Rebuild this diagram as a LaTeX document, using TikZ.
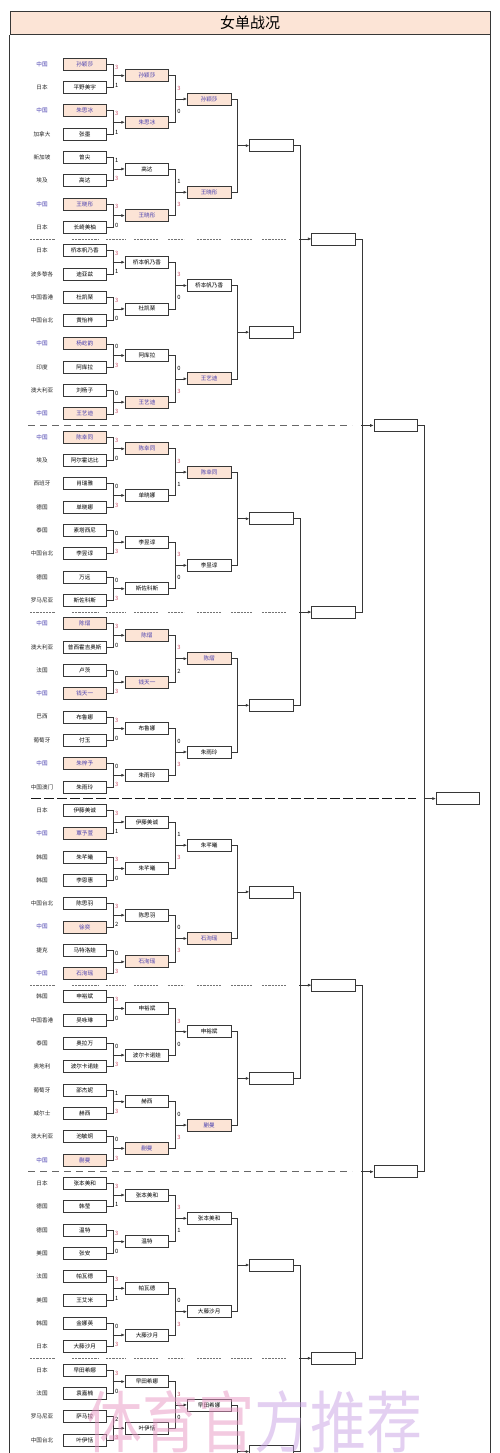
\documentclass[tikz,border=0pt]{standalone}
\usepackage{fontspec}
\newfontfamily\cjk{Noto Sans CJK SC}
\usetikzlibrary{arrows.meta,calc}
\definecolor{peach}{RGB}{252,228,214}
\definecolor{cnblue}{RGB}{72,62,175}
\definecolor{winred}{RGB}{205,85,110}
\definecolor{edge}{RGB}{55,55,55}
\definecolor{wmarkA}{RGB}{232,150,195}
\definecolor{wmarkB}{RGB}{200,160,228}
\begin{document}
\begin{tikzpicture}[x=1pt,y=-1pt,
  boxpl/.style={draw=edge,line width=0.7pt,fill=white,minimum width=43.5pt,minimum height=12pt,inner sep=0pt,font=\cjk\fontsize{5.6}{6}\selectfont,text=black},
  boxcn/.style={boxpl,fill=peach,text=cnblue},
  labpl/.style={font=\cjk\fontsize{5.6}{6}\selectfont,text=black!85,inner sep=0pt},
  labcn/.style={labpl,text=cnblue},
  conn/.style={draw=edge,line width=0.6pt},
  arr/.style={conn,-{Latex[length=3.5pt,width=3pt]}},
  scbase/.style={font=\cjk\fontsize{5.8}{6}\selectfont,inner sep=0pt,anchor=west},
  sc0/.style={scbase,text=black},
  sc1/.style={scbase,text=black},
  sc2/.style={scbase,text=black},
  sc3/.style={scbase,text=winred},
  thinsep/.style={draw=black!55,line width=0.5pt,dash pattern=on 2.2pt off 1pt},
  midsep/.style={draw=black!60,line width=0.9pt,dash pattern=on 7pt off 5pt},
  thicksep/.style={draw=black!90,line width=1.5pt,dash pattern=on 10pt off 3pt},
  framebar/.style={draw=edge,line width=0.8pt,fill=peach,minimum width=480pt,minimum height=23.5pt,inner sep=0pt,font=\cjk\fontsize{15}{16}\selectfont},
  wm/.style={opacity=0.5,inner sep=0pt,font=\cjk\fontsize{56}{56}\selectfont}
]
\useasboundingbox (0,0) rectangle (500,1453);
\fill[white] (0,0) rectangle (500,1453);

% title and frame
\node[framebar] (title) at (250,23) {女单战况};
\draw[edge,line width=0.8pt] (title.south west) -- ++(0,1440);
\draw[edge,line width=0.8pt] (title.south east) -- ++(0,1440);

% separators
\foreach \r in {7.5,23.5,39.5,55.5}{
  \pgfmathsetmacro\yy{64+23.32*\r}
  \foreach \xa/\xb in {30/55,72/98,106/126,134/158,168/184,197/221,231/252,262/286}{
    \draw[thinsep] (\xa,\yy) -- (\xb,\yy);
  }
}
\foreach \r in {15.5,47.5}{
  \pgfmathsetmacro\yy{64+23.32*\r}
  \draw[midsep] (28,\yy) -- (352,\yy);
}
\pgfmathsetmacro\yy{64+23.32*31.5}
\draw[thicksep] (31,\yy) -- (416,\yy);

% round 1
\foreach \i/\c/\n/\s in {
0/中国/孙颖莎/cn,1/日本/平野美宇/pl,2/中国/朱思冰/cn,3/加拿大/张墨/pl,
4/新加坡/曾尖/pl,5/埃及/高达/pl,6/中国/王晓彤/cn,7/日本/长崎美柚/pl,
8/日本/桥本帆乃香/pl,9/波多黎各/迪亚兹/pl,10/中国香港/杜凯琹/pl,11/中国台北/黄怡桦/pl,
12/中国/杨屹韵/cn,13/印度/阿库拉/pl,14/澳大利亚/刘杨子/pl,15/中国/王艺迪/cn,
16/中国/陈幸同/cn,17/埃及/阿尔霍达比/pl,18/西班牙/肖瑞雅/pl,19/德国/单晓娜/pl,
20/泰国/素塔西尼/pl,21/中国台北/李昱谆/pl,22/德国/万远/pl,23/罗马尼亚/斯佐科斯/pl,
24/中国/陈熠/cn,25/澳大利亚/普西霍吉奥斯/pl,26/法国/卢茨/pl,27/中国/钱天一/cn,
28/巴西/布鲁娜/pl,29/葡萄牙/付玉/pl,30/中国/朱梓予/cn,31/中国澳门/朱雨玲/pl,
32/日本/伊藤美诚/pl,33/中国/覃予萱/cn,34/韩国/朱芊曦/pl,35/韩国/李恩惠/pl,
36/中国台北/陈思羽/pl,37/中国/徐奕/cn,38/捷克/马特洛娃/pl,39/中国/石洵瑶/cn,
40/韩国/申裕斌/pl,41/中国香港/吴咏琳/pl,42/泰国/奥拉万/pl,43/奥地利/波尔卡诺娃/pl,
44/葡萄牙/邵杰妮/pl,45/威尔士/赫西/pl,46/澳大利亚/池敏炯/pl,47/中国/蒯曼/cn,
48/日本/张本美和/pl,49/德国/韩莹/pl,50/德国/温特/pl,51/美国/张安/pl,
52/法国/帕瓦德/pl,53/美国/王艾米/pl,54/韩国/金娜英/pl,55/日本/大藤沙月/pl,
56/日本/早田希娜/pl,57/法国/袁嘉楠/pl,58/罗马尼亚/萨马拉/pl,59/中国台北/叶伊恬/pl}{
  \pgfmathsetmacro\yy{64+23.32*\i}
  \node[lab\s] (c-\i) at (42,\yy) {\c};
  \node[box\s] (r1-\i) at (84.75,\yy) {\n};
}

% round 2
\foreach \j/\n/\s in {
0/孙颖莎/cn,1/朱思冰/cn,2/高达/pl,3/王晓彤/cn,4/桥本帆乃香/pl,5/杜凯琹/pl,6/阿库拉/pl,7/王艺迪/cn,
8/陈幸同/cn,9/单晓娜/pl,10/李昱谆/pl,11/斯佐科斯/pl,12/陈熠/cn,13/钱天一/cn,14/布鲁娜/pl,15/朱雨玲/pl,
16/伊藤美诚/pl,17/朱芊曦/pl,18/陈思羽/pl,19/石洵瑶/cn,20/申裕斌/pl,21/波尔卡诺娃/pl,22/赫西/pl,23/蒯曼/cn,
24/张本美和/pl,25/温特/pl,26/帕瓦德/pl,27/大藤沙月/pl,28/早田希娜/pl,29/叶伊恬/pl}{
  \pgfmathsetmacro\yy{64+23.32*(2*\j+0.5)}
  \node[box\s] (r2-\j) at (146.95,\yy) {\n};
}

% round 3
\foreach \k/\n/\s in {
0/孙颖莎/cn,1/王晓彤/cn,2/桥本帆乃香/pl,3/王艺迪/cn,4/陈幸同/cn,5/李昱谆/pl,6/陈熠/cn,7/朱雨玲/pl,
8/朱芊曦/pl,9/石洵瑶/cn,10/申裕斌/pl,11/蒯曼/cn,12/张本美和/pl,13/大藤沙月/pl,14/早田希娜/pl}{
  \pgfmathsetmacro\yy{64+23.32*(4*\k+1.5)}
  \node[box\s] (r3-\k) at (209.15,\yy) {\n};
}

% round 4 to 7 (empty)
\foreach \k in {0,...,7}{
  \pgfmathsetmacro\yy{64+23.32*(8*\k+3.5)}
  \node[boxpl] (r4-\k) at (271.35,\yy) {};
}
\foreach \k in {0,...,3}{
  \pgfmathsetmacro\yy{64+23.32*(16*\k+7.5)}
  \node[boxpl] (r5-\k) at (333.55,\yy) {};
}
\foreach \k in {0,1}{
  \pgfmathsetmacro\yy{64+23.32*(32*\k+15.5)}
  \node[boxpl] (r6-\k) at (395.75,\yy) {};
}
\pgfmathsetmacro\yy{64+23.32*31.5}
\node[boxpl] (r7-0) at (457.95,\yy) {};

% round 1 connectors and scores
\foreach \p/\sa/\sb in {
0/3/1,1/3/1,2/1/3,3/3/0,4/3/1,5/3/0,6/0/3,7/0/3,8/3/0,9/0/3,10/0/3,11/0/3,12/3/0,13/0/3,14/3/0,
15/0/3,16/3/1,17/3/0,18/3/2,19/0/3,20/3/0,21/0/3,22/1/3,23/0/3,24/3/1,25/3/0,26/3/1,27/0/3,28/3/0,29/2/3}{
  \pgfmathtruncatemacro\a{2*\p}
  \pgfmathtruncatemacro\b{2*\p+1}
  \draw[conn] (r1-\a.east) -- ++(6.5,0) |- (r1-\b.east);
  \draw[arr] ($(r2-\p.west)+(-12.2,0)$) -- (r2-\p.west);
  \node[sc\sa] at ($(r1-\a.east)+(8,3)$) {\sa};
  \node[sc\sb] at ($(r1-\b.east)+(8,-2)$) {\sb};
}

% round 2 connectors and scores
\foreach \p/\sa/\sb in {
0/3/0,1/1/3,2/3/0,3/0/3,4/3/1,5/3/0,6/3/2,7/0/3,8/1/3,9/0/3,10/3/0,11/0/3,12/3/1,13/0/3,14/3/0}{
  \pgfmathtruncatemacro\a{2*\p}
  \pgfmathtruncatemacro\b{2*\p+1}
  \draw[conn] (r2-\a.east) -- ++(6.5,0) |- (r2-\b.east);
  \draw[arr] ($(r3-\p.west)+(-12.2,0)$) -- (r3-\p.west);
  \node[sc\sa] at ($(r2-\a.east)+(8,12.5)$) {\sa};
  \node[sc\sb] at ($(r2-\b.east)+(8,-11)$) {\sb};
}

% round 3 connectors
\foreach \p in {0,...,6}{
  \pgfmathtruncatemacro\a{2*\p}
  \pgfmathtruncatemacro\b{2*\p+1}
  \draw[conn] (r3-\a.east) -- ++(6.5,0) |- (r3-\b.east);
  \draw[arr] ($(r4-\p.west)+(-12.2,0)$) -- (r4-\p.west);
}
\draw[conn] (r3-14.east) -- ++(6.5,0) -- ++(0,120);
\draw[arr] ($(r4-7.west)+(-12.2,0)$) -- (r4-7.west);

% round 4 connectors
\foreach \p in {0,...,3}{
  \pgfmathtruncatemacro\a{2*\p}
  \pgfmathtruncatemacro\b{2*\p+1}
  \draw[conn] (r4-\a.east) -- ++(6.5,0) |- (r4-\b.east);
  \draw[arr] ($(r5-\p.west)+(-12.2,0)$) -- (r5-\p.west);
}
% round 5 connectors
\foreach \p in {0,1}{
  \pgfmathtruncatemacro\a{2*\p}
  \pgfmathtruncatemacro\b{2*\p+1}
  \draw[conn] (r5-\a.east) -- ++(6.5,0) |- (r5-\b.east);
  \draw[arr] ($(r6-\p.west)+(-12.2,0)$) -- (r6-\p.west);
}
% round 6 connector
\draw[conn] (r6-0.east) -- ++(6.5,0) |- (r6-1.east);
\draw[arr] ($(r7-0.west)+(-12.2,0)$) -- (r7-0.west);

% watermark
\node[wm,anchor=west] (wm1) at (86,1422) {\scalebox{1}[1.2]{\textcolor{wmarkA}{体育官}\textcolor{wmarkB}{方推荐}}};
\end{tikzpicture}
\end{document}
